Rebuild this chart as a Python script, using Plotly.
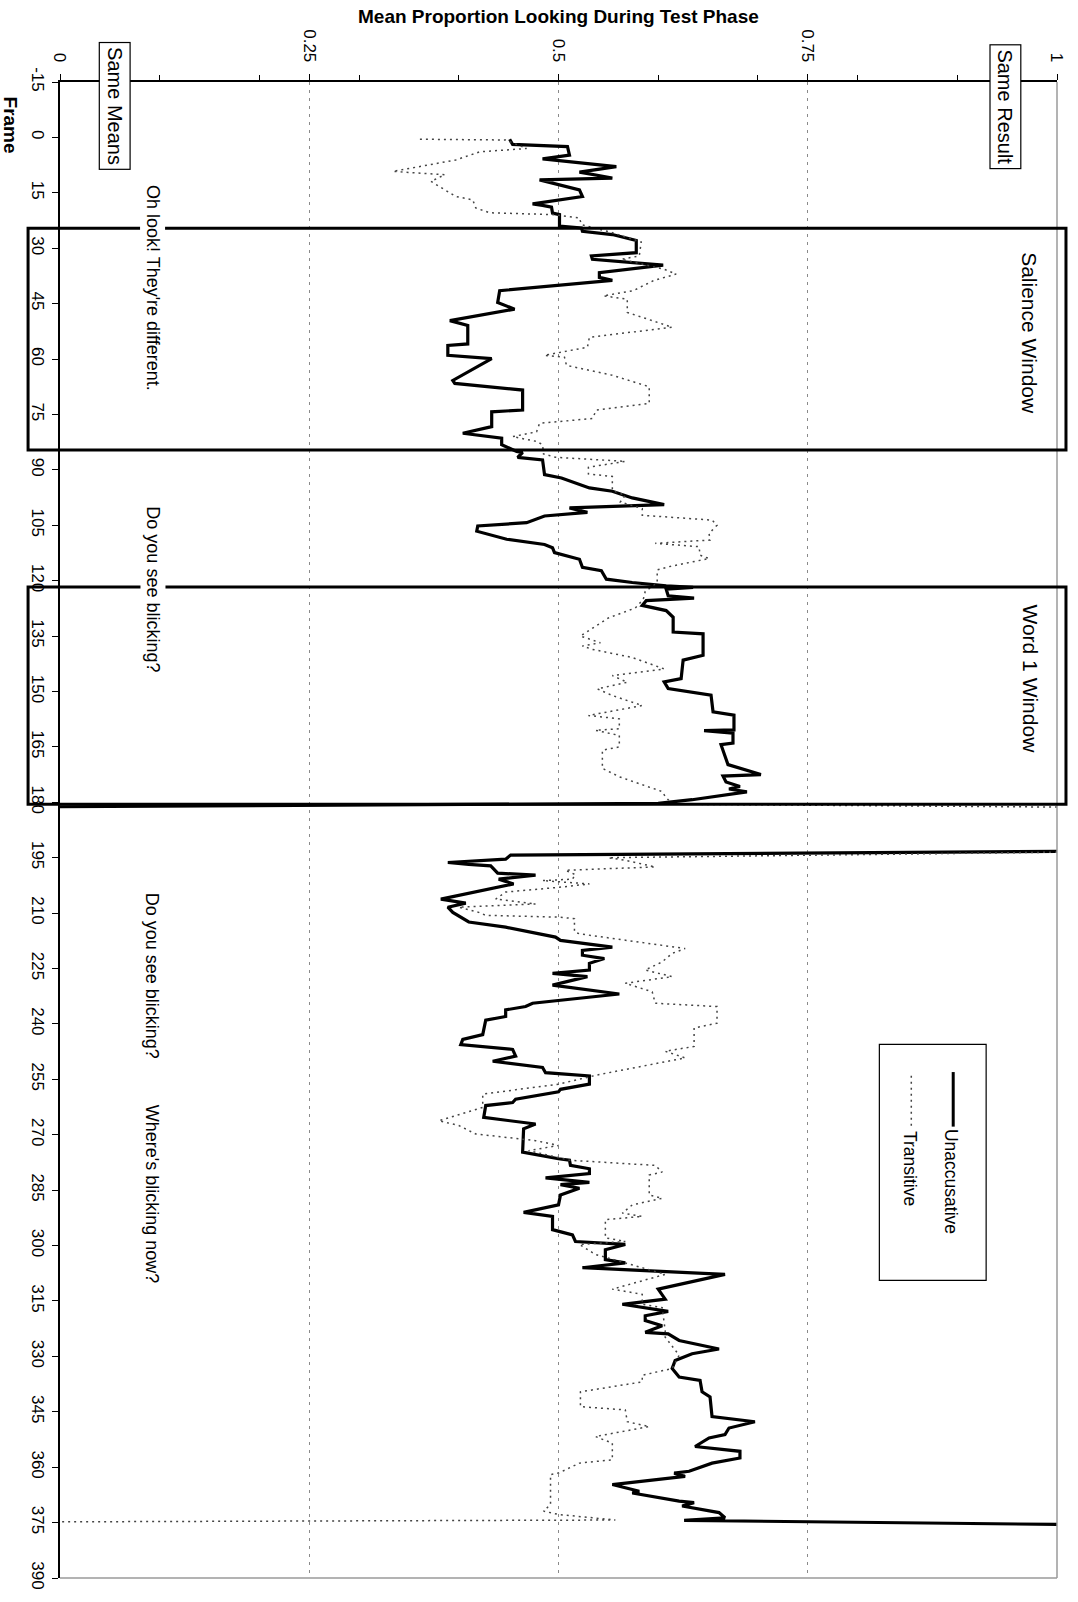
import plotly.graph_objects as go

# ---------------- data ----------------
frame_ticks = list(range(-15, 391, 15))
frame_tick_labels = [str(v) for v in frame_ticks]
prop_ticks = [0, 0.25, 0.5, 0.75, 1]
prop_tick_labels = ["0", "0.25", "0.5", "0.75", "1"]

unacc_frames = [
    0.5, 1.9, 2.5, 4.8, 5.8, 7.9, 9.4, 11.0, 11.5, 14.2, 16.0, 18.0, 18.4, 18.9, 20.5, 20.9,
    24.0, 24.5, 25.4, 26.3, 27.9, 31.2, 32.1, 33.0, 34.6, 36.6, 37.9, 38.7, 41.5, 44.7, 46.5,
    49.6, 50.9, 55.9, 56.3, 59.0, 59.9, 65.8, 66.6, 68.4, 73.8, 74.3, 78.3, 80.1, 81.4, 83.2,
    85.0, 85.3, 86.6, 87.3, 91.3, 92.2, 94.9, 95.8, 97.6, 99.4, 100.3, 101.5, 102.5, 104.3,
    105.2, 106.6, 108.8, 110.2, 111.1, 112.4, 114.2, 116.4, 117.3, 119.6, 120.5, 121.4, 121.8,
    122.3, 124.1, 124.7, 125.4, 126.7, 128.1, 129.9, 133.9, 134.4, 140.2, 141.5, 146.5, 147.4,
    149.2, 151.0, 155.5, 156.4, 160.4, 160.6, 161.3, 164.0, 164.4, 169.8, 172.5, 172.9, 174.5,
    175.7, 176.4, 177.2, 179.3, 180.3, 181.2,
    None,
    193.3, 194.3, 195.4, 196.3, 196.8, 197.2, 199.2, 199.7, 200.8, 202.1, 206.2, 206.6, 207.3,
    208.4, 209.8, 212.4, 213.8, 216.5, 217.4, 219.2, 220.1, 221.4, 222.3, 223.6, 225.4, 226.3,
    227.2, 229.5, 231.9, 234.4, 235.3, 236.2, 238.0, 239.0, 242.9, 244.2, 245.6, 246.9, 248.7,
    250.1, 251.8, 253.2, 254.1, 256.3, 257.7, 258.4, 260.4, 261.3, 262.1, 265.3, 267.1, 268.4,
    274.7, 276.5, 276.9, 278.3, 279.2, 280.5, 281.7, 282.9, 283.5, 284.5, 286.3, 289.0, 291.0,
    292.1, 295.7, 297.1, 298.9, 299.7, 301.1, 303.8, 304.7, 306.0, 307.8, 311.8, 314.5, 315.9,
    317.8, 319.0, 320.3, 321.7, 323.5, 323.9, 325.7, 328.0, 329.3, 331.1, 333.3, 335.6, 336.5,
    339.6, 341.0, 346.3, 347.7, 349.4, 351.2, 352.1, 354.4, 355.7, 357.5, 358.9, 361.1, 361.6,
    362.5, 364.7, 366.5, 367.0, 369.2, 369.6, 370.5, 372.3, 373.7, 374.4, 375.5,
]
unacc_values = [
    0.451, 0.454, 0.509, 0.511, 0.484, 0.558, 0.521, 0.554, 0.481, 0.521, 0.524, 0.474, 0.484,
    0.493, 0.494, 0.501, 0.501, 0.523, 0.524, 0.554, 0.578, 0.578, 0.533, 0.534, 0.605, 0.541,
    0.541, 0.554, 0.441, 0.439, 0.456, 0.391, 0.409, 0.409, 0.389, 0.389, 0.433, 0.394, 0.396,
    0.464, 0.464, 0.433, 0.433, 0.404, 0.443, 0.443,
    0.458, 0.464, 0.459, 0.484, 0.486, 0.503, 0.531, 0.554, 0.574, 0.606, 0.511, 0.529, 0.486,
    0.468, 0.419, 0.418, 0.448, 0.486, 0.494, 0.496, 0.521, 0.524, 0.543, 0.548, 0.574, 0.608,
    0.635, 0.608, 0.610, 0.636, 0.588, 0.584, 0.608, 0.615, 0.615, 0.645, 0.645, 0.625, 0.623,
    0.606, 0.610, 0.653, 0.655, 0.676, 0.676, 0.646, 0.675, 0.675, 0.663, 0.670, 0.703, 0.665,
    0.668, 0.682, 0.671, 0.689, 0.634, 0.600, 0.0,
    None,
    1.0, 0.452, 0.447, 0.389, 0.410, 0.432, 0.439, 0.477, 0.440, 0.455, 0.382, 0.390, 0.407,
    0.389, 0.394, 0.410, 0.447, 0.497, 0.502, 0.554, 0.524, 0.524, 0.546, 0.531, 0.531, 0.494,
    0.529, 0.494, 0.561, 0.474, 0.467, 0.447, 0.447, 0.427, 0.424, 0.404, 0.402, 0.454, 0.457,
    0.434, 0.484, 0.487, 0.531, 0.531, 0.502, 0.500, 0.457, 0.454, 0.427, 0.425, 0.477, 0.465,
    0.464, 0.500, 0.511, 0.512, 0.531, 0.531, 0.487, 0.531, 0.502, 0.521, 0.502, 0.500, 0.465,
    0.494, 0.494, 0.514, 0.517, 0.567, 0.547, 0.547, 0.567, 0.524, 0.667, 0.600, 0.607, 0.564,
    0.610, 0.587, 0.587, 0.604, 0.587, 0.610, 0.621, 0.661, 0.634, 0.617, 0.614, 0.621, 0.642,
    0.644, 0.652, 0.654, 0.697, 0.671, 0.667, 0.651, 0.637, 0.682, 0.682, 0.654, 0.631, 0.616,
    0.627, 0.554, 0.581, 0.574, 0.621, 0.636, 0.624, 0.661, 0.667, 0.626, 1.0,
]

trans_frames = [
    0.5, 0.7, 3.0, 3.9, 6.1, 9.2, 10.1, 11.9, 16.0, 16.9, 19.1, 20.4, 20.9, 21.8, 23.6, 25.8,
    28.3, 32.1, 33.0, 35.7, 37.0, 38.8, 41.5, 42.9, 43.8, 47.4, 48.7, 51.4, 54.1, 56.8, 59.0,
    59.5, 61.7, 64.4, 67.5, 72.0, 73.8, 76.1, 77.4, 79.7, 81.0, 82.3, 83.2, 85.7, 86.6, 87.7,
    89.3, 91.1, 91.8, 95.6, 96.9, 98.7, 100.5, 102.3, 103.6, 105.0, 107.2, 109.0, 109.9, 110.8,
    113.1, 114.0, 116.2, 117.1, 120.6, 122.9, 125.1, 127.4, 130.1, 132.8, 135.0, 136.8, 137.7,
    138.6, 140.8, 143.9, 145.7, 147.5, 149.3, 151.1, 153.8, 156.5, 157.4, 160.1, 160.5, 161.9,
    165.0, 165.9, 170.8, 173.1, 175.3, 177.1, 178.4, 180.5, 181.3,
    None,
    193.5, 195.0, 195.7, 197.5, 198.4, 199.6, 200.8, 201.2, 202.1, 203.0, 204.3, 206.2, 207.5,
    208.4, 209.8, 210.6, 211.1, 211.5, 215.1, 215.6, 219.6, 220.9, 223.2, 225.4, 227.2, 229.0,
    231.3, 234.4, 235.3, 239.8, 241.1, 246.1, 247.4, 249.2, 253.7, 256.3, 259.0, 262.6, 266.2,
    267.5, 269.8, 271.6, 272.9, 274.3, 276.9, 278.3, 280.1, 280.9, 286.3, 287.2, 289.0, 291.2,
    292.1, 293.0, 297.9, 298.9, 299.7, 302.4, 304.7, 307.8, 311.8, 313.2, 315.9, 316.8, 323.0,
    324.8, 329.7, 333.3, 335.1, 336.9, 339.6, 343.6, 344.5, 347.7, 349.0, 351.7, 353.5, 358.0,
    358.9, 361.6, 362.0, 370.1, 371.9, 372.8, 374.3, 374.8,
]
trans_values = [
    0.361, 0.447, 0.468, 0.421, 0.397, 0.334, 0.386, 0.372, 0.397, 0.414, 0.417, 0.431, 0.494,
    0.521, 0.523, 0.554, 0.583, 0.581, 0.563, 0.606, 0.618, 0.595, 0.575, 0.545, 0.569, 0.569,
    0.584, 0.614, 0.531, 0.529, 0.486, 0.506, 0.508, 0.554, 0.591, 0.591, 0.538, 0.534, 0.481,
    0.478, 0.454, 0.478, 0.484, 0.485, 0.497, 0.567, 0.530, 0.530, 0.554, 0.554, 0.567, 0.562,
    0.584, 0.584, 0.654, 0.659, 0.651, 0.652, 0.597, 0.641, 0.642, 0.651, 0.611, 0.599, 0.599,
    0.587, 0.585, 0.577, 0.550, 0.534, 0.522, 0.542, 0.524, 0.534, 0.574, 0.606, 0.554, 0.569,
    0.539, 0.554, 0.584, 0.530, 0.561, 0.561, 0.537, 0.561, 0.561, 0.544, 0.544, 0.561, 0.584,
    0.604, 0.607, 0.614, 1.0,
    None,
    1.0, 0.550, 0.567, 0.597, 0.507, 0.517, 0.514, 0.484, 0.531, 0.501, 0.447, 0.437, 0.477,
    0.400, 0.420, 0.427, 0.501, 0.516, 0.516, 0.521, 0.627, 0.614, 0.604, 0.587, 0.614, 0.567,
    0.594, 0.597, 0.659, 0.659, 0.636, 0.636, 0.607, 0.627, 0.541, 0.500, 0.424, 0.424, 0.380,
    0.400, 0.417, 0.477, 0.500, 0.470, 0.511, 0.597, 0.604, 0.591, 0.591, 0.604, 0.574, 0.564,
    0.584, 0.547, 0.547, 0.567, 0.521, 0.537, 0.567, 0.607, 0.554, 0.584, 0.584, 0.604, 0.607,
    0.607, 0.621, 0.614, 0.584, 0.584, 0.522, 0.522, 0.567, 0.569, 0.591, 0.537, 0.554, 0.554,
    0.521, 0.500, 0.492, 0.492, 0.485, 0.500, 0.557, 0.0,
]

window_names = ["Salience Window", "Word 1 Window"]
window_start = [24.6, 121.7]
window_end = [84.6, 180.5]
window_label_frame = [53.0, 146.5]

prompt_texts = ["Oh look! They're different.", "Do you see blicking?",
                "Do you see blicking?", "Where's blicking now?"]
prompt_frames = [40.7, 122.3, 226.9, 286.2]

# ---------------- layout helpers (pixel -> paper) ----------------
W, H = 1078, 1602
L, R, T, B = 60, 1059, 82, 1590


def xp(px):
    return (px - L) / (R - L)


def yp(py):
    return (B - py) / (B - T)


FONT = "Liberation Sans, Arial, sans-serif"

fig = go.Figure()
fig.add_trace(go.Scatter(x=unacc_values, y=unacc_frames, mode="lines", name="Unaccusative",
                         line=dict(color="black", width=3.2), connectgaps=False,
                         showlegend=False))
fig.add_trace(go.Scatter(x=trans_values, y=trans_frames, mode="lines", name="Transitive",
                         line=dict(color="#444444", width=1.5, dash="2px,4px"),
                         connectgaps=False, showlegend=False))

shapes = []
# gray right and bottom borders
shapes.append(dict(type="line", xref="paper", yref="paper", x0=1, x1=1, y0=0, y1=1,
                   line=dict(color="#9a9a9a", width=1.5)))
shapes.append(dict(type="line", xref="paper", yref="paper", x0=0, x1=1, y0=0, y1=0,
                   line=dict(color="#9a9a9a", width=1.5)))
# window boxes
for s, e in zip(window_start, window_end):
    shapes.append(dict(type="rect", xref="paper", yref="y", x0=xp(28), x1=xp(1068),
                       y0=s, y1=e, line=dict(color="black", width=3), layer="above"))
# legend box and samples
shapes.append(dict(type="rect", xref="paper", yref="paper", x0=xp(881), x1=xp(988),
                   y0=yp(1290), y1=yp(1052), line=dict(color="black", width=1.2),
                   fillcolor="white", layer="above"))
shapes.append(dict(type="line", xref="paper", yref="paper", x0=xp(955), x1=xp(955),
                   y0=yp(1135), y1=yp(1080), line=dict(color="black", width=3), layer="above"))
shapes.append(dict(type="line", xref="paper", yref="paper", x0=xp(913), x1=xp(913),
                   y0=yp(1134), y1=yp(1080),
                   line=dict(color="#444444", width=1.5, dash="2px,4px"), layer="above"))


def note(text, x, y, size, yref="paper", **kw):
    d = dict(text=text, xref="paper", yref=yref, x=x, y=y, showarrow=False,
             xanchor="center", yanchor="middle",
             font=dict(size=size, color="black", family=FONT))
    d.update(kw)
    return d


ann = []
ann.append(note("<b>Mean Proportion Looking During Test Phase</b>", xp(560), yp(16), 19))
ann.append(note("<b>Frame</b>", xp(10), yp(125), 19, textangle=90))
ann.append(note("Same Means", xp(114.5), yp(106.5), 20, textangle=90, bordercolor="black",
                borderwidth=1.2, borderpad=4, bgcolor="white"))
ann.append(note("Same Result", xp(1007), yp(106.5), 20, textangle=90, bordercolor="black",
                borderwidth=1.2, borderpad=4, bgcolor="white"))
for name, f in zip(window_names, window_label_frame):
    ann.append(note(name, xp(1032), f, 21, yref="y", textangle=90))
for t, f in zip(prompt_texts, prompt_frames):
    ann.append(note(t, xp(153), f, 18, yref="y", textangle=90, bgcolor="white", borderpad=2))
ann.append(note("Unaccusative", xp(953), yp(1190), 17.5, textangle=90))
ann.append(note("Transitive", xp(911), yp(1177), 17.5, textangle=90))

fig.update_layout(
    width=W, height=H,
    margin=dict(l=L, r=W - R, t=T, b=H - B),
    paper_bgcolor="white", plot_bgcolor="white",
    shapes=shapes, annotations=ann,
    xaxis=dict(range=[0, 1], side="top", tickvals=prop_ticks, ticktext=prop_tick_labels,
               tickangle=90, ticks="outside", ticklen=6, tickcolor="black", tickwidth=1.2,
               showline=True, linecolor="black", linewidth=1.5,
               showgrid=True, gridcolor="#8a8a8a", gridwidth=1, griddash="3px,5px",
               zeroline=False, ticklabelstandoff=6,
               tickfont=dict(size=17, color="black", family=FONT),
               minor=dict(tick0=0, dtick=0.1, ticks="outside", ticklen=5, tickcolor="black",
                          showgrid=False)),
    yaxis=dict(range=[390, -15], tickvals=frame_ticks, ticktext=frame_tick_labels,
               tickangle=90, ticks="outside",
               ticklen=6, tickcolor="black", tickwidth=1.2, showline=True,
               linecolor="black", linewidth=1.5, showgrid=False, zeroline=False,
               ticklabelstandoff=0,
               tickfont=dict(size=17, color="black", family=FONT)),
)

fig.write_html("out.html", config={"displayModeBar": False},
               post_script="document.body.style.margin='0px';")
